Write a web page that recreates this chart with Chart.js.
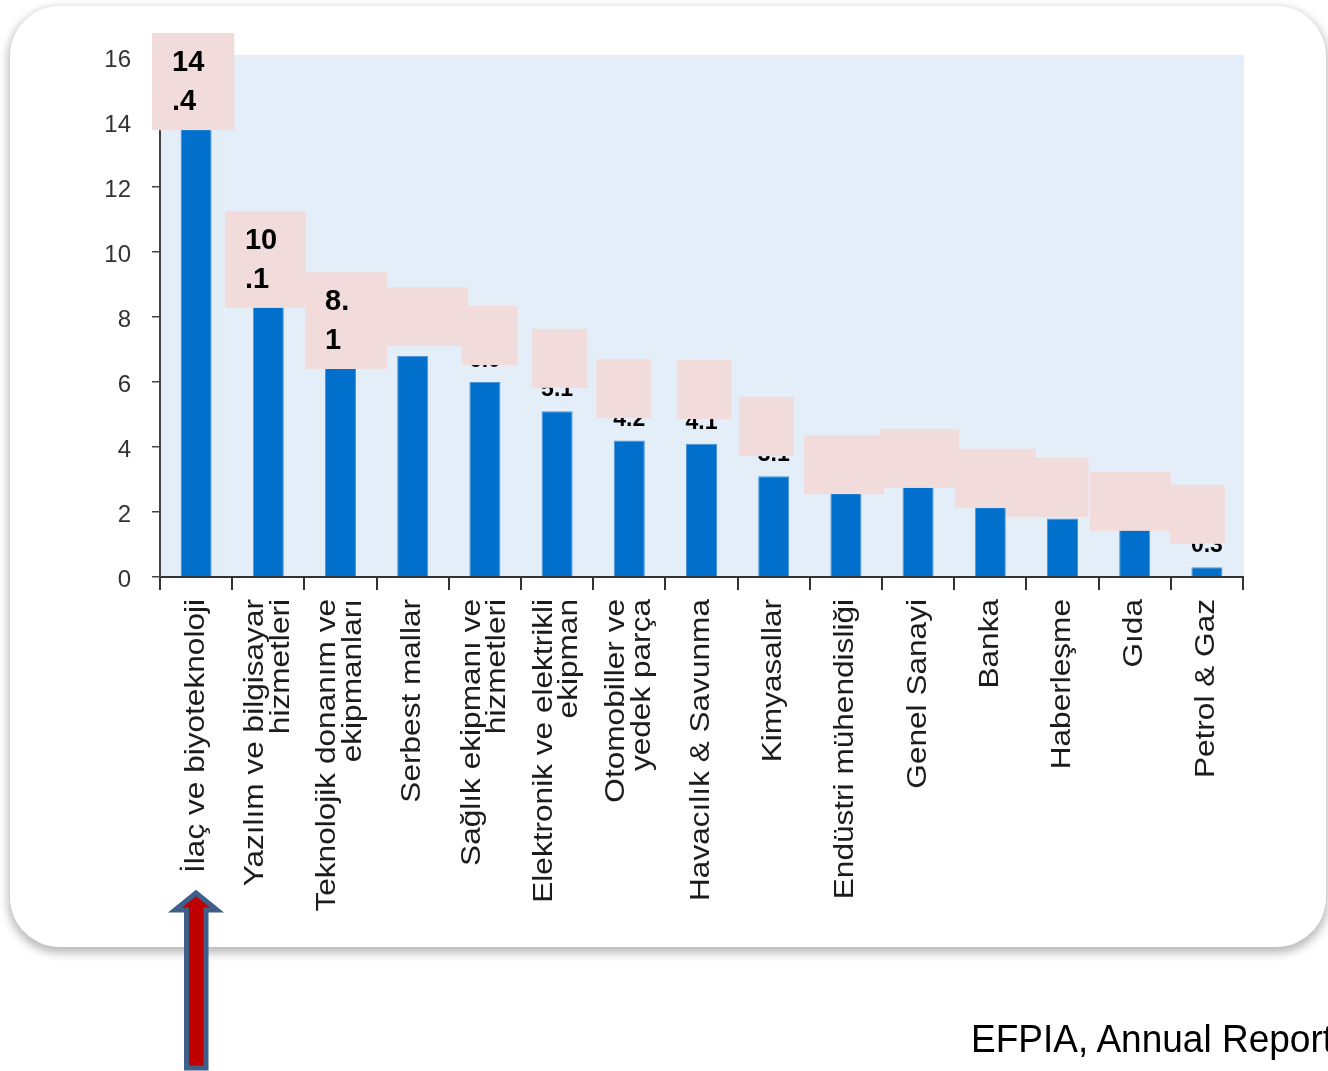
<!DOCTYPE html>
<html>
<head>
<meta charset="utf-8">
<script src="https://cdn.jsdelivr.net/npm/chart.js@4"></script>
<style>
  html, body { margin:0; padding:0; background:#fff; width:1328px; height:1071px; overflow:hidden; }
  .card { position:absolute; left:10px; top:6px; width:1316px; height:941px; border-radius:50px; background:#fff;
          box-shadow:0 4px 10px 2px rgba(0,0,0,0.28); }
  .wrap { position:absolute; left:0; top:0; width:1328px; height:1071px; }
  .src { position:absolute; left:971px; top:1017px; font:37px "Liberation Sans", Arial, sans-serif; color:#000;
         white-space:nowrap; transform:scaleY(1.07); transform-origin:left top; }
  svg.arrow { position:absolute; left:0; top:0; }
</style>
</head>
<body>
<div class="card"></div>
<div class="wrap"><canvas id="chart"></canvas></div>
<svg class="arrow" width="1328" height="1071">
  <polygon points="196,893 217,910 206,910 206,1068 186.5,1068 186.5,910 175,910"
           fill="#c00000" stroke="#3e5f8a" stroke-width="5" stroke-linejoin="miter"/>
</svg>
<div class="src">EFPIA, Annual Report</div>
<script>
    // sectors (R&D intensity, %)
    const categories = [
      'İlaç ve biyoteknoloji',
      ['Yazılım ve bilgisayar', 'hizmetleri'],
      ['Teknolojik donanım ve', 'ekipmanları'],
      'Serbest mallar',
      ['Sağlık ekipmanı ve', 'hizmetleri'],
      ['Elektronik ve elektrikli', 'ekipman'],
      ['Otomobiller ve', 'yedek parça'],
      'Havacılık & Savunma',
      'Kimyasallar',
      'Endüstri mühendisliği',
      'Genel Sanayi',
      'Banka',
      'Haberleşme',
      'Gıda',
      'Petrol & Gaz'
    ];
    const values = [14.4, 10.1, 8.1, 6.8, 6.0, 5.1, 4.2, 4.1, 3.1, 2.6, 2.8, 2.2, 1.8, 1.5, 0.3];
    const yTicks = [0, 2, 4, 6, 8, 10, 12, 14, 16];

    // pink cover boxes over the value labels (category units / value units)
    const boxX0 =   [-0.61, 0.40, 1.51, 2.645, 3.68, 4.65, 5.54, 6.66, 7.52, 8.42, 9.46, 10.51, 11.22, 12.38, 13.49];
    const boxX1 =   [ 0.53, 1.52, 2.645, 3.77, 4.45, 5.42, 6.30, 7.42, 8.28, 9.53, 10.57, 11.63, 12.36, 13.50, 14.25];
    const boxTop =  [16.74, 11.26, 9.38, 8.92, 8.34, 7.63, 6.71, 6.68, 5.54, 4.37, 4.55, 3.94, 3.66, 3.23, 2.83];
    const boxBot =  [13.75, 8.28, 6.40, 7.11, 6.52, 5.82, 4.89, 4.86, 3.72, 2.55, 2.74, 2.12, 1.85, 1.42, 1.02];
    const boxHasText = [true, true, true, false, false, false, false, false, false, false, false, false, false, false, false];

    const FONT = '"Liberation Sans", Arial, sans-serif';

    const plotBg = {
      id: 'plotBg',
      beforeDraw(chart){
        const { ctx, chartArea: a } = chart;
        ctx.save();
        ctx.fillStyle = '#e4eef9';
        ctx.fillRect(a.left, a.top - 2, a.right - a.left + 1, a.bottom - a.top + 2);
        ctx.restore();
      }
    };

    const valueLabels = {
      id: 'valueLabels',
      afterDatasetsDraw(chart){
        const { ctx } = chart;
        const meta = chart.getDatasetMeta(0);
        ctx.save();
        ctx.fillStyle = '#000';
        ctx.font = 'bold 23px ' + FONT;
        ctx.textAlign = 'center';
        ctx.textBaseline = 'alphabetic';
        meta.data.forEach((bar, i) => {
          ctx.fillText(values[i].toFixed(1), bar.x, bar.y - 15);
        });
        ctx.restore();
      }
    };

    const xLabels = {
      id: 'xLabels',
      afterDraw(chart){
        const { ctx, scales: { x } } = chart;
        ctx.save();
        ctx.fillStyle = '#1c1c1c';
        ctx.font = '27px ' + FONT;
        ctx.textAlign = 'right';
        ctx.textBaseline = 'middle';
        categories.forEach((lab, i) => {
          const lines = [].concat(lab);
          const px = x.getPixelForValue(i);
          lines.forEach((ln, j) => {
            ctx.save();
            ctx.translate(px + (j - (lines.length - 1) / 2) * 25.5, x.top + 22);
            ctx.rotate(-Math.PI / 2);
            ctx.scale(1.17, 1);
            ctx.fillText(ln, 0, 0);
            ctx.restore();
          });
        });
        ctx.restore();
      }
    };

    const coverBoxes = {
      id: 'coverBoxes',
      afterDraw(chart){
        const { ctx, scales: { x, y } } = chart;
        ctx.save();
        boxX0.forEach((b, i) => {
          const l = x.getPixelForValue(b), r = x.getPixelForValue(boxX1[i]);
          const t = y.getPixelForValue(boxTop[i]), btm = y.getPixelForValue(boxBot[i]);
          ctx.fillStyle = '#f2dcdb';
          ctx.fillRect(l, t, r - l, btm - t);
          if(boxHasText[i]){
            const s = values[i].toFixed(1);
            ctx.fillStyle = '#000';
            ctx.font = 'bold 29px ' + FONT;
            ctx.textAlign = 'left';
            ctx.textBaseline = 'middle';
            ctx.fillText(s.slice(0, 2), l + 20, t + 30);
            ctx.fillText(s.slice(2), l + 20, t + 69);
          }
        });
        ctx.restore();
      }
    };

    const ctx = document.getElementById('chart');
    new Chart(ctx, {
      type: 'bar',
      data: {
        labels: categories,
        datasets: [{
          data: values,
          backgroundColor: '#0070cc',
          borderColor: '#4f95d8',
          borderWidth: 1,
          barPercentage: 0.43,
          categoryPercentage: 1
        }]
      },
      options: {
        responsive: true,
        maintainAspectRatio: false,
        animation: false,
        layout: { padding: { top: 57, right: 85, left: 0, bottom: 0 } },
        plugins: { legend: { display: false }, tooltip: { enabled: false } },
        scales: {
          x: {
            grid: { offset: true, drawOnChartArea: false, tickLength: 13, color: '#333', lineWidth: 2 },
            border: { color: '#333', width: 2 },
            ticks: { display: false },
            afterFit(scale){ scale.height = 494; }
          },
          y: {
            min: 0, max: 16,
            afterBuildTicks(scale){ scale.ticks = yTicks.map(v => ({ value: v })); },
            grid: { drawOnChartArea: false, tickLength: 8, color: '#444', lineWidth: 1.5 },
            border: { color: '#444', width: 2 },
            ticks: { color: '#333', font: { family: FONT, size: 24 }, padding: 21, labelOffset: 3 },
            afterFit(scale){ scale.width = 160; }
          }
        }
      },
      plugins: [plotBg, valueLabels, xLabels, coverBoxes]
    });
</script>
</body>
</html>
